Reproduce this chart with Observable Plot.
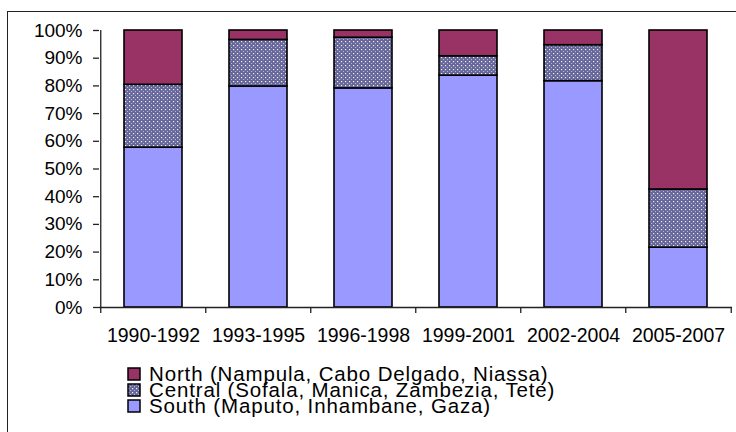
<!DOCTYPE html>
<html>
<head>
<meta charset="utf-8">
<script src="https://cdn.jsdelivr.net/npm/d3@7"></script>
<script src="https://cdn.jsdelivr.net/npm/@observablehq/plot@0.6"></script>
<style>
  html, body { margin: 0; padding: 0; background: #fff; }
  #wrap { position: relative; width: 736px; height: 432px; overflow: hidden; font-family: "Liberation Sans", Arial, sans-serif; color: #000; }
  #frame { position: absolute; left: 7px; top: 11px; width: 900px; height: 600px; border: 1.5px solid #222; }
  #chart { position: absolute; left: 0; top: 0; }
  #legend { position: absolute; left: 127px; top: 366px; font-size: 20.5px; letter-spacing: 0.85px; }
  #legend .row { display: flex; align-items: center; height: 16px; white-space: nowrap; }
  #legend .row span { display: block; height: 16px; line-height: 16px; overflow: visible; }
  #legend svg { margin-right: 7px; flex: none; }
</style>
</head>
<body>
<div id="wrap">
  <div id="frame"></div>
  <div id="chart"></div>
  <div id="legend"></div>
</div>
<script>
const periods = ["1990-1992", "1993-1995", "1996-1998", "1999-2001", "2002-2004", "2005-2007"];
const regions = ["South (Maputo, Inhambane, Gaza)", "Central (Sofala, Manica, Zambezia, Tete)", "North (Nampula, Cabo Delgado, Niassa)"];
const south   = [57.7, 79.8, 79.1, 83.7, 81.7, 21.6];
const central = [22.7, 16.8, 18.3, 7.0, 13.0, 21.0];
const north   = [19.6, 3.4, 2.6, 9.3, 5.3, 57.4];
const yTicks  = [0, 10, 20, 30, 40, 50, 60, 70, 80, 90, 100];
const fills   = ["#9999FF", "url(#dots)", "#993366"];

const series = [south, central, north];
const data = [];
series.forEach((vals, r) => vals.forEach((v, i) => data.push({period: periods[i], region: regions[r], value: v})));

const W = 736, H = 350, ML = 99, MR = 4, MT = 30, MB = 43;
const step = (W - ML - MR) / periods.length;

const svg = Plot.plot({
  width: W, height: H,
  marginLeft: ML, marginRight: MR, marginTop: MT, marginBottom: MB,
  style: {fontFamily: '"Liberation Sans", Arial, sans-serif', color: "#000", background: "transparent", overflow: "visible"},
  x: {domain: periods, paddingInner: 0.45, paddingOuter: 0.225, axis: null, label: null},
  y: {domain: [0, 100], axis: null, label: null},
  color: {domain: regions, range: fills},
  marks: [
    Plot.barY(data, Plot.stackY({x: "period", y: "value", fill: "region", z: "region", stroke: "#000", strokeWidth: 1.6})),
    Plot.ruleY([0], {stroke: "#222", strokeWidth: 1.3}),
    Plot.ruleX([periods[0]], {dx: -step / 2, y1: 0, y2: 100, stroke: "#222", strokeWidth: 1.3}),
    Plot.ruleX(periods, {dx: -step / 2, y1: 0, y2: 0, insetBottom: -6, stroke: "#222", strokeWidth: 1.3}),
    Plot.ruleX([periods[periods.length - 1]], {dx: step / 2, y1: 0, y2: 0, insetBottom: -6, stroke: "#222", strokeWidth: 1.3}),
    Plot.axisY({ticks: yTicks, tickFormat: d => d + "%", tickSize: 6, tickPadding: 11, fontSize: 19, label: null, stroke: "#222", strokeWidth: 1.3}),
    Plot.axisX({tickSize: 0, tickPadding: 21, fontSize: 19.5, label: null})
  ]
});

const defs = d3.select(svg).insert("defs", ":first-child");
const pat = defs.append("pattern").attr("id", "dots").attr("patternUnits", "userSpaceOnUse")
  .attr("width", 8).attr("height", 8);
pat.append("rect").attr("width", 8).attr("height", 8).attr("fill", "#666699");
[[1, 1], [5, 1], [1, 5], [5, 5], [3, 3], [7, 3], [3, 7], [7, 7]].forEach(([x, y], k) => {
  pat.append("rect").attr("x", x).attr("y", y).attr("width", 1.2).attr("height", 1.2)
    .attr("fill", k < 4 ? "#f0f0ff" : "#b8b8d8");
});
document.getElementById("chart").appendChild(svg);

const legend = d3.select("#legend");
regions.slice().reverse().forEach(name => {
  const r = regions.indexOf(name);
  const row = legend.append("div").attr("class", "row");
  const s = row.append("svg").attr("width", 15).attr("height", 15);
  s.append("rect").attr("x", 1).attr("y", 1).attr("width", 12).attr("height", 12)
    .attr("fill", fills[r]).attr("stroke", "#000").attr("stroke-width", 1.5);
  row.append("span").text(name);
});
</script>
</body>
</html>
